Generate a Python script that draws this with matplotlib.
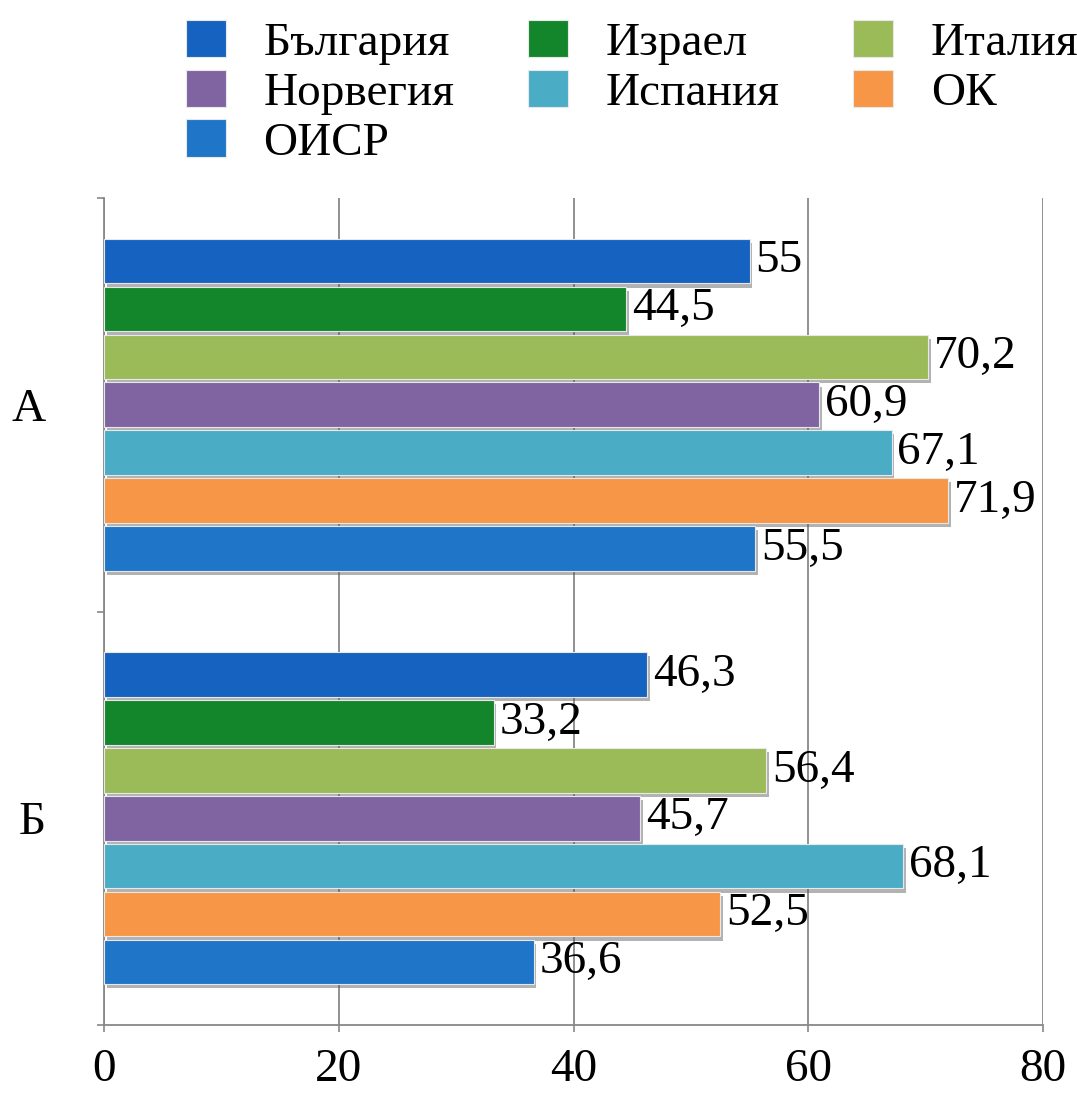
import matplotlib
matplotlib.use("Agg")
import matplotlib.pyplot as plt
import matplotlib.patheffects as pe
from matplotlib.patches import Patch
import numpy as np

groups = ["А", "Б"]
countries = ["България", "Израел", "Италия", "Норвегия", "Испания", "ОК", "ОИСР"]
values_A = [55, 44.5, 70.2, 60.9, 67.1, 71.9, 55.5]
values_B = [46.3, 33.2, 56.4, 45.7, 68.1, 52.5, 36.6]
colors = ["#1662C0", "#13862B", "#9BBB59", "#8064A2", "#4BACC6", "#F79646", "#1F76C8"]
xticks = [0, 20, 40, 60, 80]

plt.rcParams['font.family'] = ['Liberation Serif', 'DejaVu Serif']
FS = 34

fig = plt.figure(figsize=(10.77, 10.95), dpi=100)
ax = fig.add_axes([104/1077, 1-1025/1095, (1043-104)/1077, (1025-198)/1095])

pitch = 0.1158
h = 0.108
data = np.array([values_A, values_B])
handles = []
for i, c in enumerate(countries):
    ys = np.arange(len(groups)) + (i - 3) * pitch
    ax.barh(ys, data[:, i], height=h, color=colors[i], edgecolor='#e8e8e8',
            linewidth=0.8, label=c, zorder=3,
            path_effects=[pe.withSimplePatchShadow(offset=(2, -3), shadow_rgbFace='#555555', alpha=0.45)])
    handles.append(Patch(facecolor=colors[i], edgecolor='#e8e8e8', linewidth=0.8))
    for y, v in zip(ys, data[:, i]):
        lab = ("%g" % v).replace('.', ',')
        ax.text(v + 0.5, y, lab, va='center', ha='left', fontsize=FS, zorder=4)

ax.set_xlim(0, 80)
ax.set_ylim(1.5, -0.5)
ax.set_xticks(xticks)
ax.set_xticklabels([str(t) for t in xticks], fontsize=FS)
ax.set_yticks(range(len(groups)))
ax.set_yticklabels(groups, fontsize=FS)
ax.set_yticks([-0.5, 0.5, 1.5], minor=True)
ax.tick_params(axis='y', which='major', length=0, pad=42)
ax.tick_params(axis='y', which='minor', length=5, color='#888888', width=1.2)
ax.tick_params(axis='x', length=5, color='#888888', width=1.2, pad=12)
ax.grid(axis='x', color='#888888', linewidth=1.3, zorder=0)
ax.spines['top'].set_visible(False)
ax.spines['right'].set_visible(False)
for s in ['left', 'bottom']:
    ax.spines[s].set_color('#888888')
    ax.spines[s].set_linewidth(1.3)

order = [0, 3, 6, 1, 4, 2, 5]
fig.legend([handles[k] for k in order], [countries[k] for k in order],
           loc='upper left', bbox_to_anchor=(162/1077, 1+4/1095), ncol=3,
           frameon=False, fontsize=FS, handlelength=0.85, handleheight=0.85,
           handletextpad=0.8, columnspacing=1.55, labelspacing=0.1, borderpad=0)

fig.savefig("out.png", dpi=100)
